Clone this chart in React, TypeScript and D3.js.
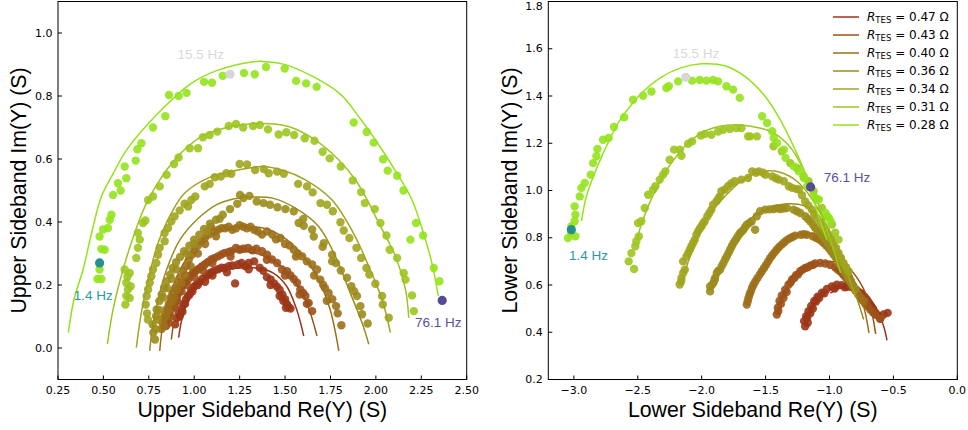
import React from 'react';
import * as d3 from 'd3';

type P = [number, number];

const R_TES = ['0.47', '0.43', '0.40', '0.36', '0.34', '0.31', '0.28'];
const COLORS = ['#9b3518', '#9c5219', '#9c7019', '#9b8c1c', '#a0a51e', '#9cc51f', '#93e31b'];

// ---------- Upper sideband (left panel) data points ----------
const U_PTS_047: P[] = [
  [0.895, 0.075], [0.905, 0.095], [0.915, 0.11], [0.93, 0.125], [0.94, 0.14], [0.955, 0.155], [0.966, 0.165],
  [0.984, 0.185], [1.0, 0.195], [1.012, 0.202], [1.03, 0.21], [1.045, 0.22], [1.067, 0.228], [1.08, 0.235],
  [1.094, 0.24], [1.11, 0.245], [1.131, 0.25], [1.15, 0.255], [1.168, 0.254], [1.19, 0.26], [1.21, 0.262],
  [1.225, 0.205], [1.24, 0.265], [1.26, 0.27], [1.28, 0.26], [1.3, 0.27], [1.33, 0.275], [1.36, 0.255],
  [1.38, 0.245], [1.4, 0.225], [1.42, 0.218], [1.44, 0.205], [1.455, 0.195], [1.47, 0.185], [1.485, 0.17],
  [1.5, 0.155], [1.51, 0.14], [1.52, 0.13], [1.53, 0.125],
  [0.92, 0.1], [0.935, 0.115], [0.95, 0.14], [0.975, 0.17], [0.99, 0.18], [1.02, 0.2], [1.06, 0.21],
  [1.1, 0.23], [1.18, 0.24], [1.3, 0.25], [1.42, 0.2], [1.47, 0.165], [1.49, 0.15], [1.505, 0.128],
];
const U_PTS_043: P[] = [
  [0.845, 0.07], [0.85, 0.09], [0.86, 0.105], [0.874, 0.122], [0.883, 0.143], [0.9, 0.16], [0.91, 0.175],
  [0.92, 0.186], [0.938, 0.2], [0.95, 0.21], [0.966, 0.217], [0.98, 0.23], [0.993, 0.239], [1.01, 0.245],
  [1.021, 0.25], [1.04, 0.258], [1.058, 0.265], [1.075, 0.272], [1.094, 0.281], [1.11, 0.285], [1.131, 0.291],
  [1.15, 0.297], [1.168, 0.302], [1.19, 0.305], [1.204, 0.307], [1.23, 0.318], [1.25, 0.312], [1.27, 0.315],
  [1.296, 0.318], [1.32, 0.31], [1.342, 0.315], [1.373, 0.307], [1.401, 0.296], [1.428, 0.281], [1.456, 0.27],
  [1.483, 0.249], [1.511, 0.244], [1.53, 0.23], [1.548, 0.219], [1.566, 0.207], [1.584, 0.186], [1.6, 0.175],
  [1.612, 0.165], [1.63, 0.143], [1.649, 0.117],
  [0.86, 0.08], [0.87, 0.1], [0.89, 0.13], [0.905, 0.15], [0.93, 0.18], [0.96, 0.2], [1.0, 0.225],
  [1.05, 0.245], [1.1, 0.27], [1.2, 0.29], [1.4, 0.28], [1.5, 0.23], [1.58, 0.17], [1.62, 0.14],
];
const U_PTS_040: P[] = [
  [0.82, 0.06], [0.825, 0.08], [0.83, 0.095], [0.84, 0.11], [0.85, 0.125], [0.86, 0.14], [0.87, 0.16],
  [0.88, 0.175], [0.895, 0.19], [0.91, 0.21], [0.925, 0.225], [0.94, 0.245], [0.955, 0.26], [0.97, 0.28],
  [0.985, 0.295], [1.0, 0.31], [1.02, 0.325], [1.04, 0.34], [1.06, 0.35], [1.08, 0.36], [1.092, 0.385],
  [1.11, 0.37], [1.13, 0.375], [1.15, 0.38], [1.17, 0.38], [1.19, 0.385], [1.21, 0.375], [1.23, 0.38],
  [1.25, 0.39], [1.27, 0.385], [1.29, 0.38], [1.31, 0.385], [1.33, 0.375], [1.35, 0.37], [1.373, 0.36],
  [1.4, 0.37], [1.43, 0.36], [1.474, 0.349], [1.5, 0.33], [1.525, 0.325], [1.548, 0.312], [1.57, 0.3],
  [1.594, 0.291], [1.62, 0.275], [1.649, 0.265], [1.676, 0.249], [1.694, 0.217], [1.71, 0.2], [1.72, 0.19],
  [1.74, 0.175], [1.76, 0.155], [1.781, 0.133], [1.79, 0.11], [1.81, 0.072],
  [0.835, 0.07], [0.845, 0.1], [0.86, 0.12], [0.875, 0.145], [0.89, 0.16], [0.905, 0.185], [0.93, 0.205],
  [0.95, 0.23], [0.98, 0.26], [1.02, 0.3], [1.06, 0.33], [1.12, 0.355], [1.45, 0.345], [1.56, 0.29],
  [1.66, 0.23], [1.73, 0.15],
];
const U_PTS_036: P[] = [
  [0.784, 0.027], [0.775, 0.049], [0.771, 0.075], [0.79, 0.101], [0.793, 0.122], [0.808, 0.149], [0.821, 0.17],
  [0.834, 0.191], [0.848, 0.212], [0.867, 0.233], [0.881, 0.254], [0.9, 0.272], [0.922, 0.289], [0.944, 0.307],
  [0.973, 0.325], [0.999, 0.344], [1.028, 0.36], [1.054, 0.378], [1.087, 0.395], [1.12, 0.407], [1.157, 0.423],
  [1.197, 0.441], [1.237, 0.458], [1.252, 0.486], [1.271, 0.476], [1.304, 0.483], [1.344, 0.465], [1.381, 0.46],
  [1.417, 0.455], [1.458, 0.447], [1.502, 0.441], [1.548, 0.434], [1.575, 0.397], [1.603, 0.388], [1.649, 0.376],
  [1.658, 0.354], [1.713, 0.333], [1.707, 0.321], [1.759, 0.296], [1.759, 0.275], [1.807, 0.246], [1.841, 0.223],
  [1.865, 0.196], [1.896, 0.165], [1.915, 0.133], [1.924, 0.107], [1.955, 0.078],
  [0.79, 0.06], [0.8, 0.09], [0.81, 0.12], [0.83, 0.16], [0.85, 0.19], [0.875, 0.22], [0.9, 0.25],
  [0.96, 0.3], [1.0, 0.33], [1.07, 0.37], [1.14, 0.41], [1.6, 0.41], [1.78, 0.27], [1.88, 0.18],
];
const U_PTS_034: P[] = [
  [0.745, 0.09], [0.74, 0.11], [0.733, 0.138], [0.738, 0.165], [0.746, 0.186], [0.755, 0.207], [0.764, 0.228],
  [0.773, 0.249], [0.791, 0.27], [0.801, 0.296], [0.81, 0.318], [0.837, 0.339], [0.837, 0.365], [0.856, 0.381],
  [0.874, 0.402], [0.892, 0.418], [0.92, 0.437], [0.947, 0.458], [0.966, 0.449], [0.984, 0.47], [1.006, 0.481],
  [1.058, 0.513], [1.085, 0.521], [1.113, 0.542], [1.146, 0.544], [1.177, 0.555], [1.204, 0.553], [1.25, 0.584],
  [1.291, 0.583], [1.335, 0.565], [1.383, 0.568], [1.41, 0.555], [1.456, 0.56], [1.493, 0.553], [1.572, 0.521],
  [1.621, 0.513], [1.652, 0.494], [1.695, 0.46], [1.731, 0.455], [1.763, 0.434], [1.805, 0.399], [1.823, 0.373],
  [1.854, 0.349], [1.893, 0.318], [1.919, 0.286], [1.948, 0.254], [1.964, 0.233], [1.997, 0.204], [2.034, 0.165],
  [2.038, 0.138], [2.071, 0.096],
];
const U_PTS_031: P[] = [
  [0.621, 0.138], [0.626, 0.165], [0.645, 0.159], [0.635, 0.186], [0.65, 0.196], [0.626, 0.207], [0.632, 0.226],
  [0.645, 0.238], [0.617, 0.249], [0.681, 0.286], [0.69, 0.318], [0.7, 0.344], [0.69, 0.365], [0.718, 0.397],
  [0.731, 0.405], [0.746, 0.47], [0.773, 0.481], [0.81, 0.513], [0.848, 0.55], [0.889, 0.584], [0.914, 0.605],
  [0.975, 0.634], [1.021, 0.634], [1.048, 0.669], [1.085, 0.676], [1.127, 0.687], [1.19, 0.705], [1.23, 0.711],
  [1.269, 0.7], [1.324, 0.705], [1.361, 0.708], [1.406, 0.694], [1.465, 0.678], [1.507, 0.685], [1.55, 0.676],
  [1.608, 0.666], [1.662, 0.658], [1.707, 0.623], [1.746, 0.602], [1.807, 0.576], [1.873, 0.532], [1.919, 0.495],
  [1.939, 0.46], [1.994, 0.441], [2.025, 0.397], [2.058, 0.357], [2.076, 0.312], [2.117, 0.286], [2.153, 0.238],
  [2.163, 0.217], [2.199, 0.167], [2.209, 0.117],
];
const U_PTS_028: P[] = [
  [0.467, 0.219], [0.489, 0.219], [0.479, 0.249], [0.489, 0.314], [0.507, 0.312], [0.479, 0.354], [0.498, 0.376],
  [0.525, 0.381], [0.535, 0.407], [0.544, 0.423], [0.553, 0.486], [0.58, 0.523], [0.595, 0.5], [0.617, 0.576],
  [0.626, 0.539], [0.678, 0.595], [0.687, 0.631], [0.709, 0.65], [0.773, 0.7], [0.841, 0.736], [0.861, 0.803],
  [0.914, 0.8], [0.958, 0.81], [1.054, 0.845], [1.098, 0.842], [1.157, 0.864], [1.274, 0.873], [1.333, 0.869],
  [1.395, 0.892], [1.498, 0.887], [1.561, 0.848], [1.616, 0.84], [1.674, 0.829], [1.878, 0.716], [1.95, 0.686],
  [1.988, 0.652], [2.04, 0.599], [2.065, 0.563], [2.117, 0.547], [2.152, 0.5], [2.221, 0.397], [2.19, 0.344],
  [2.26, 0.357], [2.319, 0.254], [2.35, 0.212],
];

// ---------- Upper sideband fit curves ----------
const U_FIT_047: P[] = [
  [0.914, 0.033], [0.936, 0.101], [0.977, 0.165], [1.05, 0.217], [1.142, 0.244], [1.252, 0.254], [1.344, 0.254],
  [1.436, 0.238], [1.509, 0.196], [1.564, 0.122], [1.603, 0.038],
];
const U_FIT_043: P[] = [
  [0.874, 0.027], [0.894, 0.101], [0.931, 0.175], [0.986, 0.238], [1.069, 0.281], [1.16, 0.3], [1.252, 0.306],
  [1.344, 0.3], [1.454, 0.27], [1.546, 0.217], [1.619, 0.143], [1.676, 0.038],
];
const U_FIT_040: P[] = [
  [0.81, -0.009], [0.826, 0.07], [0.858, 0.154], [0.913, 0.238], [0.986, 0.307], [1.087, 0.36], [1.197, 0.381],
  [1.289, 0.386], [1.399, 0.378], [1.509, 0.344], [1.601, 0.291], [1.684, 0.217], [1.748, 0.122], [1.796, -0.009],
];
const U_FIT_036: P[] = [
  [0.755, -0.009], [0.771, 0.07], [0.801, 0.154], [0.848, 0.249], [0.922, 0.344], [1.014, 0.407], [1.124, 0.455],
  [1.215, 0.473], [1.326, 0.479], [1.436, 0.475], [1.557, 0.444], [1.685, 0.386], [1.777, 0.291], [1.851, 0.186],
  [1.924, 0.08], [1.961, 0.012],
];
const U_FIT_034: P[] = [
  [0.681, 0.001], [0.709, 0.112], [0.746, 0.217], [0.801, 0.333], [0.874, 0.428], [0.948, 0.492], [1.094, 0.544],
  [1.241, 0.565], [1.373, 0.576], [1.483, 0.565], [1.612, 0.534], [1.759, 0.47], [1.876, 0.365], [1.961, 0.259],
  [2.034, 0.154], [2.08, 0.049],
];
const U_FIT_031: P[] = [
  [0.522, 0.012], [0.553, 0.122], [0.608, 0.249], [0.672, 0.365], [0.746, 0.47], [0.892, 0.597], [1.039, 0.671],
  [1.204, 0.703], [1.373, 0.713], [1.52, 0.703], [1.667, 0.66], [1.796, 0.597], [1.887, 0.534], [1.942, 0.481],
  [2.016, 0.397], [2.108, 0.291], [2.163, 0.186], [2.181, 0.096],
];
const U_FIT_028: P[] = [
  [0.307, 0.049], [0.338, 0.154], [0.388, 0.249], [0.435, 0.365], [0.489, 0.481], [0.555, 0.555], [0.628, 0.629],
  [0.801, 0.745], [0.984, 0.84], [1.131, 0.882], [1.315, 0.908], [1.373, 0.91], [1.511, 0.898], [1.796, 0.81],
  [1.906, 0.734], [2.023, 0.639], [2.115, 0.555], [2.199, 0.47], [2.262, 0.365], [2.308, 0.27], [2.344, 0.165],
];

// ---------- Lower sideband (right panel) data points ----------
const L_PTS_047: P[] = [
  [-1.19, 0.425], [-1.198, 0.447], [-1.182, 0.468], [-1.164, 0.489], [-1.143, 0.511], [-1.119, 0.532],
  [-1.093, 0.55], [-1.059, 0.567], [-1.02, 0.583], [-0.981, 0.594], [-0.942, 0.601], [-0.903, 0.599],
  [-0.864, 0.592], [-0.832, 0.592], [-0.791, 0.58], [-0.752, 0.563], [-0.713, 0.538], [-0.676, 0.51],
  [-0.639, 0.482], [-0.603, 0.457], [-0.577, 0.475], [-0.545, 0.482],
  [-1.17, 0.44], [-1.175, 0.46], [-1.15, 0.48], [-1.13, 0.5], [-1.105, 0.53], [-1.08, 0.545], [-1.04, 0.565],
  [-0.96, 0.585], [-0.88, 0.59], [-0.77, 0.57], [-0.73, 0.55], [-0.69, 0.52], [-0.66, 0.5], [-0.62, 0.47],
];
const L_PTS_043: P[] = [
  [-1.412, 0.475], [-1.404, 0.504], [-1.391, 0.532], [-1.373, 0.556], [-1.347, 0.58], [-1.321, 0.601],
  [-1.292, 0.623], [-1.261, 0.642], [-1.229, 0.658], [-1.19, 0.672], [-1.151, 0.682], [-1.112, 0.691],
  [-1.072, 0.693], [-1.033, 0.691], [-0.994, 0.685], [-0.955, 0.675], [-0.916, 0.658], [-0.876, 0.634],
  [-0.837, 0.606], [-0.798, 0.578], [-0.759, 0.548], [-0.72, 0.521], [-0.681, 0.496], [-0.642, 0.475],
  [-0.603, 0.457],
  [-1.4, 0.49], [-1.38, 0.52], [-1.36, 0.545], [-1.335, 0.57], [-1.305, 0.61], [-1.275, 0.63], [-1.245, 0.645],
  [-1.21, 0.665], [-1.17, 0.675], [-1.13, 0.685], [-0.935, 0.665], [-0.895, 0.645], [-0.855, 0.62],
  [-0.82, 0.59], [-0.78, 0.565], [-0.74, 0.535], [-0.7, 0.51], [-0.66, 0.485],
];
const L_PTS_040: P[] = [
  [-1.647, 0.517], [-1.634, 0.545], [-1.616, 0.573], [-1.595, 0.601], [-1.563, 0.63], [-1.529, 0.658],
  [-1.495, 0.686], [-1.464, 0.714], [-1.43, 0.738], [-1.394, 0.761], [-1.355, 0.78], [-1.313, 0.797],
  [-1.268, 0.809], [-1.224, 0.813], [-1.177, 0.813], [-1.13, 0.806], [-1.085, 0.795], [-1.046, 0.778],
  [-1.007, 0.757], [-0.968, 0.729], [-0.929, 0.7], [-0.89, 0.665], [-0.851, 0.63], [-0.812, 0.594],
  [-0.773, 0.559], [-0.733, 0.531],
  [-1.64, 0.53], [-1.625, 0.56], [-1.605, 0.588], [-1.58, 0.615], [-1.545, 0.645], [-1.512, 0.672],
  [-1.48, 0.7], [-1.447, 0.726], [-1.412, 0.75], [-1.374, 0.771], [-1.334, 0.79], [-1.29, 0.803],
  [-1.2, 0.815], [-1.107, 0.8], [-1.065, 0.787], [-1.027, 0.768], [-0.988, 0.743], [-0.948, 0.715],
  [-0.91, 0.683], [-0.87, 0.648], [-0.83, 0.612], [-0.79, 0.577], [-0.753, 0.545],
];
const L_PTS_036: P[] = [
  [-1.934, 0.573], [-1.934, 0.594], [-1.908, 0.609], [-1.895, 0.63], [-1.882, 0.651], [-1.856, 0.665],
  [-1.83, 0.693], [-1.804, 0.721], [-1.777, 0.75], [-1.751, 0.778], [-1.725, 0.799], [-1.699, 0.82],
  [-1.673, 0.834], [-1.647, 0.855], [-1.608, 0.87], [-1.582, 0.834], [-1.569, 0.891], [-1.543, 0.912],
  [-1.503, 0.919], [-1.438, 0.922], [-1.386, 0.922], [-1.334, 0.926], [-1.281, 0.919], [-1.229, 0.905],
  [-1.19, 0.891], [-1.151, 0.87], [-1.112, 0.841], [-1.072, 0.82], [-1.033, 0.792], [-0.994, 0.757],
  [-0.955, 0.721], [-0.916, 0.686], [-0.876, 0.651], [-0.837, 0.616], [-0.798, 0.58],
  [-1.92, 0.6], [-1.9, 0.62], [-1.87, 0.66], [-1.843, 0.68], [-1.817, 0.708], [-1.79, 0.736],
  [-1.764, 0.764], [-1.738, 0.788], [-1.712, 0.81], [-1.686, 0.827], [-1.66, 0.845], [-1.628, 0.862],
  [-1.47, 0.92], [-1.41, 0.925], [-1.36, 0.924], [-1.255, 0.912], [-1.17, 0.88], [-1.13, 0.855],
  [-1.09, 0.83], [-1.053, 0.806], [-1.013, 0.775], [-0.975, 0.74], [-0.935, 0.703], [-0.896, 0.668],
  [-0.856, 0.633], [-0.818, 0.598],
];
const L_PTS_034: P[] = [
  [-2.172, 0.602], [-2.158, 0.63], [-2.145, 0.651], [-2.132, 0.665], [-2.145, 0.7], [-2.119, 0.721],
  [-2.093, 0.749], [-2.08, 0.764], [-2.054, 0.792], [-2.041, 0.813], [-2.028, 0.827], [-2.002, 0.848],
  [-1.976, 0.87], [-1.955, 0.891], [-1.924, 0.919], [-1.911, 0.94], [-1.885, 0.954], [-1.859, 0.975],
  [-1.846, 0.997], [-1.819, 1.004], [-1.793, 1.018], [-1.741, 1.039], [-1.689, 1.046], [-1.637, 1.053],
  [-1.605, 1.081], [-1.553, 1.081], [-1.501, 1.067], [-1.448, 1.06], [-1.396, 1.046], [-1.357, 1.039],
  [-1.318, 1.018], [-1.292, 1.011], [-1.24, 1.004], [-1.19, 0.954], [-1.138, 0.919], [-1.099, 0.884],
  [-1.046, 0.848], [-1.007, 0.813], [-0.968, 0.778], [-0.929, 0.736], [-0.89, 0.693], [-0.851, 0.658],
  [-2.16, 0.615], [-2.105, 0.735], [-2.067, 0.778], [-2.015, 0.838], [-1.99, 0.86], [-1.94, 0.905],
  [-1.87, 0.965], [-1.77, 1.03], [-1.575, 1.075], [-1.52, 1.075], [-1.42, 1.052], [-1.26, 1.007],
  [-1.215, 0.98], [-1.165, 0.937], [-1.12, 0.9], [-1.07, 0.865], [-1.027, 0.83], [-0.988, 0.795],
  [-0.948, 0.757], [-0.91, 0.715], [-0.87, 0.675],
];
const L_PTS_031: P[] = [
  [-2.529, 0.668], [-2.571, 0.7], [-2.55, 0.735], [-2.519, 0.764], [-2.511, 0.785], [-2.492, 0.806],
  [-2.498, 0.862], [-2.472, 0.87], [-2.445, 0.926], [-2.419, 0.982], [-2.38, 1.003], [-2.362, 1.018],
  [-2.328, 1.046], [-2.302, 1.067], [-2.284, 1.081], [-2.25, 1.13], [-2.216, 1.173], [-2.171, 1.173],
  [-2.158, 1.147], [-2.106, 1.198], [-2.075, 1.208], [-2.007, 1.233], [-1.976, 1.239], [-1.924, 1.236],
  [-1.872, 1.25], [-1.832, 1.257], [-1.78, 1.26], [-1.728, 1.264], [-1.689, 1.264], [-1.637, 1.229],
  [-1.621, 1.229], [-1.568, 1.229], [-1.438, 1.187], [-1.373, 1.166], [-1.307, 1.116], [-1.255, 1.095],
  [-1.203, 1.06], [-1.164, 1.039], [-1.125, 0.997], [-1.099, 0.962], [-1.059, 0.926], [-1.02, 0.891],
  [-0.981, 0.856], [-0.955, 0.821], [-0.929, 0.792],
];
const L_PTS_028: P[] = [
  [-3.046, 0.799], [-2.988, 0.806], [-3.02, 0.82], [-3.02, 0.848], [-2.994, 0.87], [-2.988, 0.898],
  [-2.994, 0.933], [-2.954, 0.975], [-2.941, 1.011], [-2.915, 1.032], [-2.868, 1.067], [-2.85, 1.116],
  [-2.824, 1.145], [-2.816, 1.176], [-2.772, 1.215], [-2.728, 1.222], [-2.686, 1.269], [-2.607, 1.31],
  [-2.537, 1.384], [-2.458, 1.401], [-2.393, 1.419], [-2.276, 1.434], [-2.257, 1.441], [-2.184, 1.462],
  [-2.075, 1.465], [-2.015, 1.468], [-1.963, 1.465], [-1.911, 1.468], [-1.872, 1.462], [-1.806, 1.441],
  [-1.754, 1.427], [-1.702, 1.392], [-1.527, 1.314], [-1.488, 1.286], [-1.449, 1.251], [-1.436, 1.222],
  [-1.41, 1.201], [-1.357, 1.173], [-1.344, 1.138], [-1.279, 1.102], [-1.24, 1.081], [-1.201, 1.053],
  [-1.174, 1.018], [-1.122, 0.976], [-1.083, 0.962], [-1.031, 0.905], [-1.005, 0.884], [-0.992, 0.87],
];

// ---------- Lower sideband fit curves ----------
const L_FIT_047: P[] = [
  [-0.994, 0.566], [-0.864, 0.594], [-0.733, 0.573], [-0.629, 0.496], [-0.576, 0.425], [-0.55, 0.366],
];
const L_FIT_043: P[] = [
  [-1.125, 0.679], [-0.994, 0.7], [-0.864, 0.679], [-0.759, 0.609], [-0.681, 0.51], [-0.639, 0.393],
];
const L_FIT_040: P[] = [
  [-1.438, 0.736], [-1.307, 0.799], [-1.177, 0.82], [-1.046, 0.806], [-0.916, 0.736], [-0.811, 0.623],
  [-0.733, 0.51], [-0.691, 0.397],
];
const L_FIT_036: P[] = [
  [-1.647, 0.87], [-1.516, 0.916], [-1.386, 0.94], [-1.307, 0.944], [-1.203, 0.936], [-1.098, 0.898],
  [-0.994, 0.82], [-0.89, 0.693], [-0.799, 0.566], [-0.733, 0.454],
];
const L_FIT_034: P[] = [
  [-2.132, 0.651], [-2.054, 0.778], [-1.949, 0.891], [-1.819, 0.975], [-1.673, 1.046], [-1.516, 1.081],
  [-1.386, 1.077], [-1.255, 1.039], [-1.151, 0.975], [-1.046, 0.877], [-0.942, 0.75], [-0.864, 0.651],
  [-0.796, 0.552],
];
const L_FIT_031: P[] = [
  [-2.508, 0.792], [-2.477, 0.848], [-2.419, 0.933], [-2.289, 1.074], [-2.106, 1.201], [-1.949, 1.257],
  [-1.741, 1.278], [-1.605, 1.271], [-1.448, 1.247], [-1.292, 1.173], [-1.148, 1.018], [-1.072, 0.919],
  [-0.994, 0.792], [-0.913, 0.651],
];
const L_FIT_028: P[] = [
  [-2.941, 0.87], [-2.902, 0.975], [-2.847, 1.06], [-2.769, 1.159], [-2.654, 1.285], [-2.56, 1.356],
  [-2.471, 1.412], [-2.315, 1.48], [-2.169, 1.518], [-2.002, 1.536], [-1.819, 1.528], [-1.662, 1.483],
  [-1.503, 1.398], [-1.386, 1.3], [-1.281, 1.187], [-1.19, 1.074], [-1.138, 0.989], [-1.085, 0.891],
  [-1.02, 0.792],
];

// ---------- Ticks & annotations ----------
const U_X_TICKS = [0.25, 0.5, 0.75, 1.0, 1.25, 1.5, 1.75, 2.0, 2.25, 2.5];
const U_Y_TICKS = [0.0, 0.2, 0.4, 0.6, 0.8, 1.0];
const L_X_TICKS = [-3.0, -2.5, -2.0, -1.5, -1.0, -0.5, 0.0];
const L_Y_TICKS = [0.2, 0.4, 0.6, 0.8, 1.0, 1.2, 1.4, 1.6, 1.8];

const HI_LABELS = ['1.4 Hz', '15.5 Hz', '76.1 Hz'];
const HI_DOT_COLORS = ['#24908f', '#d6d6d6', '#554b97'];
const HI_TEXT_COLORS = ['#2b9a9a', '#d9d9d9', '#5b519e'];
const U_HI_PTS: P[] = [[0.479, 0.27], [1.197, 0.869], [2.365, 0.151]];
const U_HI_TEXT: P[] = [[0.444, 0.167], [1.036, 0.932], [2.344, 0.082]];
const L_HI_PTS: P[] = [[-3.02, 0.834], [-2.124, 1.479], [-1.148, 1.015]];
const L_HI_TEXT: P[] = [[-2.885, 0.724], [-2.045, 1.579], [-0.863, 1.053]];

const U_PTS = [U_PTS_047, U_PTS_043, U_PTS_040, U_PTS_036, U_PTS_034, U_PTS_031, U_PTS_028];
const U_FITS = [U_FIT_047, U_FIT_043, U_FIT_040, U_FIT_036, U_FIT_034, U_FIT_031, U_FIT_028];
const L_PTS = [L_PTS_047, L_PTS_043, L_PTS_040, L_PTS_036, L_PTS_034, L_PTS_031, L_PTS_028];
const L_FITS = [L_FIT_047, L_FIT_043, L_FIT_040, L_FIT_036, L_FIT_034, L_FIT_031, L_FIT_028];

const TICK_FONT = 'DejaVu Sans, sans-serif';
const LABEL_FONT = 'Liberation Sans, Arial, sans-serif';

type PanelProps = {
  id: string;
  box: { x0: number; x1: number; y0: number; y1: number };
  xDomain: [number, number];
  yDomain: [number, number];
  xTicks: number[];
  yTicks: number[];
  xFmt: (v: number) => string;
  yFmt: (v: number) => string;
  xLabel: string;
  yLabel: string;
  yLabelX: number;
  pts: P[][];
  fits: P[][];
  hiPts: P[];
  hiText: P[];
  legend?: boolean;
};

function Panel(props: PanelProps) {
  const { id, box, xDomain, yDomain, xTicks, yTicks, xFmt, yFmt, xLabel, yLabel, yLabelX, pts, fits, hiPts, hiText, legend } = props;
  const x = d3.scaleLinear().domain(xDomain).range([box.x0, box.x1]);
  const y = d3.scaleLinear().domain(yDomain).range([box.y1, box.y0]);
  const line = d3
    .line<P>()
    .x((d) => x(d[0]))
    .y((d) => y(d[1]))
    .curve(d3.curveCatmullRom.alpha(0.5));
  const tick = 4;
  const cx = (box.x0 + box.x1) / 2;
  const cy = (box.y0 + box.y1) / 2;
  return (
    <g>
      <defs>
        <clipPath id={`clip-${id}`}>
          <rect x={box.x0} y={box.y0} width={box.x1 - box.x0} height={box.y1 - box.y0} />
        </clipPath>
      </defs>
      <g clipPath={`url(#clip-${id})`}>
        {pts.map((series, i) => (
          <g key={`s${i}`}>
            {series.map((d, j) => (
              <circle key={j} cx={x(d[0])} cy={y(d[1])} r={4.2} fill={COLORS[i]} fillOpacity={0.9} />
            ))}
            <path d={line(fits[i]) || ''} fill="none" stroke={COLORS[i]} strokeWidth={1.5} />
          </g>
        ))}
        {hiPts.map((d, i) => (
          <circle key={`h${i}`} cx={x(d[0])} cy={y(d[1])} r={4.6} fill={HI_DOT_COLORS[i]} />
        ))}
        {hiText.map((d, i) => (
          <text
            key={`t${i}`}
            x={x(d[0])}
            y={y(d[1])}
            textAnchor="middle"
            dominantBaseline="central"
            fontFamily={LABEL_FONT}
            fontSize={13.5}
            fill={HI_TEXT_COLORS[i]}
          >
            {HI_LABELS[i]}
          </text>
        ))}
      </g>
      <rect x={box.x0} y={box.y0} width={box.x1 - box.x0} height={box.y1 - box.y0} fill="none" stroke="#000" strokeWidth={1} />
      {xTicks.map((t) => (
        <g key={`xt${t}`}>
          <line x1={x(t)} x2={x(t)} y1={box.y1} y2={box.y1 - tick} stroke="#000" strokeWidth={1} />
          <text x={x(t)} y={box.y1 + 14} textAnchor="middle" fontFamily={TICK_FONT} fontSize={11} fill="#000">
            {xFmt(t)}
          </text>
        </g>
      ))}
      {yTicks.map((t) => (
        <g key={`yt${t}`}>
          <line x1={box.x0} x2={box.x0 + tick} y1={y(t)} y2={y(t)} stroke="#000" strokeWidth={1} />
          <text
            x={box.x0 - 5.5}
            y={Math.max(y(t), 6)}
            textAnchor="end"
            dominantBaseline="central"
            fontFamily={TICK_FONT}
            fontSize={11}
            fill="#000"
          >
            {yFmt(t)}
          </text>
        </g>
      ))}
      <text x={cx} y={417} textAnchor="middle" fontFamily={LABEL_FONT} fontSize={21.3} fill="#000">
        {xLabel}
      </text>
      <text
        transform={`translate(${yLabelX},${cy}) rotate(-90)`}
        textAnchor="middle"
        fontFamily={LABEL_FONT}
        fontSize={21.3}
        fill="#000"
      >
        {yLabel}
      </text>
      {legend &&
        R_TES.map((r, i) => {
          const ly = 17 + i * 18;
          return (
            <g key={`lg${i}`}>
              <line x1={833} x2={859} y1={ly} y2={ly} stroke={COLORS[i]} strokeWidth={1.5} />
              <text x={867} y={ly} dominantBaseline="central" fontFamily={TICK_FONT} fontSize={12} fill="#000">
                <tspan fontStyle="italic">R</tspan>
                <tspan fontSize={8.5} dy={3}>TES</tspan>
                <tspan dy={-3}>{` = ${r} Ω`}</tspan>
              </text>
            </g>
          );
        })}
    </g>
  );
}

export default function App() {
  const fmt2 = (v: number) => v.toFixed(2);
  const fmt1 = (v: number) => v.toFixed(1);
  const fmtNeg = (v: number) => (v < 0 ? '\u2212' + Math.abs(v).toFixed(1) : v.toFixed(1));
  return (
    <svg
      width={968}
      height={430}
      viewBox="0 0 968 430"
      style={{ position: 'absolute', left: 0, top: 0, background: '#fff' }}
    >
      <rect x={0} y={0} width={968} height={430} fill="#fff" />
      <Panel
        id="upper"
        box={{ x0: 58, x1: 466.7, y0: 1.5, y1: 379.5 }}
        xDomain={[0.25, 2.5]}
        yDomain={[-0.1, 1.1]}
        xTicks={U_X_TICKS}
        yTicks={U_Y_TICKS}
        xFmt={fmt2}
        yFmt={fmt1}
        xLabel="Upper Sideband Re(Y) (S)"
        yLabel="Upper Sideband Im(Y) (S)"
        yLabelX={26}
        pts={U_PTS}
        fits={U_FITS}
        hiPts={U_HI_PTS}
        hiText={U_HI_TEXT}
      />
      <Panel
        id="lower"
        box={{ x0: 548.3, x1: 957.3, y0: 1.5, y1: 379.5 }}
        xDomain={[-3.2, 0]}
        yDomain={[0.2, 1.8]}
        xTicks={L_X_TICKS}
        yTicks={L_Y_TICKS}
        xFmt={fmtNeg}
        yFmt={fmt1}
        xLabel="Lower Sideband Re(Y) (S)"
        yLabel="Lower Sideband Im(Y) (S)"
        yLabelX={517}
        pts={L_PTS}
        fits={L_FITS}
        hiPts={L_HI_PTS}
        hiText={L_HI_TEXT}
        legend
      />
    </svg>
  );
}
